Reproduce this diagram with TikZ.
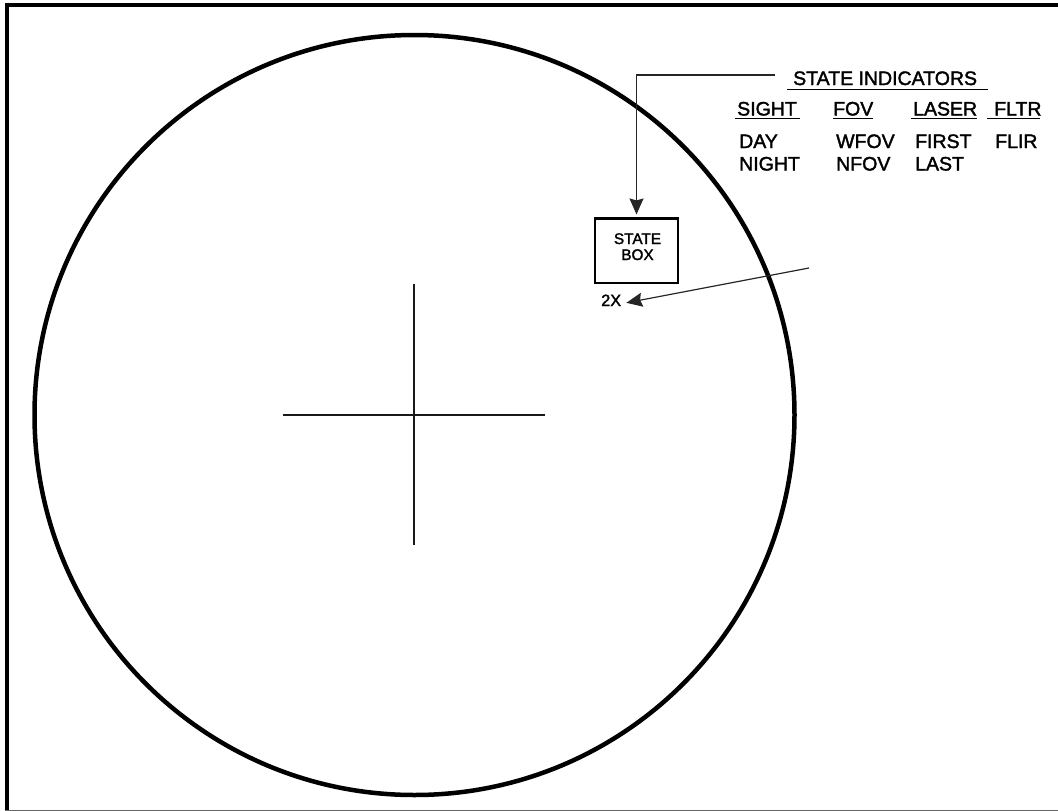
\documentclass[tikz,border=0pt]{standalone}
\usepackage{fontspec}
\setmainfont{Liberation Sans}
\newfontfamily\lblfont{Liberation Sans}[FakeBold=1.8]
\usetikzlibrary{arrows.meta}
\begin{document}
\begin{tikzpicture}[x=1pt,y=-1pt,
  lbl/.style={anchor=base west,inner sep=0pt,font=\lblfont\fontsize{19.5}{22}\selectfont},
  uline/.style={line width=1.8pt},
  lead/.style={line width=1.2pt,draw=black!85,-{Stealth[length=16pt,width=14pt,inset=2pt]}},
  statebox/.style={draw,line width=2.2pt,minimum width=83pt,minimum height=64.5pt,inner sep=0pt}]
\useasboundingbox (0,0) rectangle (1058,811);
% frame
\draw[line width=4pt] (6.6,811) -- (6.6,5.2) -- (1058,5.2);
\draw[line width=1.2pt,draw=black!60] (5,810.2) -- (1058,810.2);
% sight circle
\draw[line width=4.5pt] (414.5,415) circle (380);
% crosshair
\draw[line width=2.6pt,draw=black!90] (283,415) -- (545,415);
\draw[line width=2.6pt,draw=black!90] (414,284) -- (414,545);
% state box
\node[statebox] (box) at (636.5,250.8) {};
\node[anchor=base,inner sep=0pt,align=center,font=\lblfont\fontsize{15.3}{16}\selectfont] (boxtext) at (637.5,260) {STATE\\BOX};
\node[anchor=base west,inner sep=0pt,font=\lblfont\fontsize{16.3}{18}\selectfont] (twox) at (601,306) {2X};
% labels
\node[lbl] (si) at (793,85) {STATE INDICATORS};
\node[lbl] (sight) at (737,115.5) {SIGHT};
\node[lbl] (fov) at (833,115.5) {FOV};
\node[lbl] (laser) at (913,115.5) {LASER};
\node[lbl] (fltr) at (994,115.5) {FLTR};
\node[lbl] (day) at (739,148) {DAY};
\node[lbl] (night) at (739,170.5) {NIGHT};
\node[lbl] (wfov) at (836,148) {WFOV};
\node[lbl] (nfov) at (836,170.5) {NFOV};
\node[lbl] (first) at (915,148) {FIRST};
\node[lbl] (last) at (915,170.5) {LAST};
\node[lbl] (flir) at (995,148) {FLIR};
% underlines
\draw[uline] (787,89.5) -- (988,89.5);
\draw[uline] (735,118.5) -- (800,118.5);
\draw[uline] (833,118.5) -- (873,118.5);
\draw[uline] (911,118.5) -- (977,118.5);
\draw[uline] (987,118.5) -- (1040,118.5);
% leaders
\coordinate (leadstart) at (775,75);
\draw[lead,shorten >=3pt] (leadstart) -| (box.north);
\coordinate (xstart) at (809,268);
\draw[lead] (xstart) -- ([xshift=5pt,yshift=-2.5pt]twox.east);
\end{tikzpicture}
\end{document}
